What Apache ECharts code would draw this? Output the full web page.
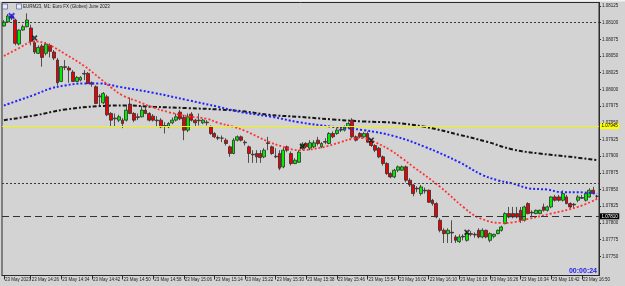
<!DOCTYPE html>
<html><head><meta charset="utf-8">
<script src="https://cdn.jsdelivr.net/npm/echarts@6/dist/echarts.min.js"></script>
<style>html,body{margin:0;padding:0;background:#d3d3d3;}#c{width:625px;height:286px;}</style>
</head><body><div id="c"></div>
<script>
// ---- data ----
const title = 'EURM23, M1: Euro FX (Globex) June 2023';
const timerText = '00:00:24';
const firstLabel = '23 May 2023';
const datePrefix = '23 May ';
const startMinute = 14 * 60 + 19; // first M1 bar 14:19
const barCount = 156;
const timeTicks = ['14:26','14:34','14:42','14:50','14:58','15:06','15:14','15:22','15:30','15:38','15:46','15:54','16:02','16:10','16:18','16:26','16:34','16:42','16:50'];
const priceTicks = [1.07750,1.07775,1.07800,1.07825,1.07850,1.07875,1.07900,1.07925,1.07950,1.07975,1.08000,1.08025,1.08050,1.08075,1.08100,1.08125];
const yMin = 1.077213, yMax = 1.081302;

const opens = [
1.08095,1.08101,1.08110,1.08104,1.08068,1.08089,1.08094,1.08092,1.08070,1.08054,
1.08065,1.08054,1.08066,1.08056,1.08044,1.08012,1.08034,1.08032,1.08026,1.08012,
1.08014,1.08024,1.08024,1.08010,1.08004,1.07989,1.07980,1.07989,1.07964,1.07957,
1.07954,1.07954,1.07954,1.07978,1.07964,1.07959,1.07959,1.07969,1.07964,1.07960,
1.07954,1.07954,1.07946,1.07944,1.07950,1.07954,1.07966,1.07958,1.07939,1.07963,
1.07954,1.07954,1.07950,1.07951,1.07944,1.07934,1.07928,1.07927,1.07924,1.07914,
1.07904,1.07924,1.07929,1.07921,1.07914,1.07903,1.07904,1.07904,1.07899,1.07920,
1.07914,1.07900,1.07904,1.07884,1.07914,1.07904,1.07889,1.07891,1.07912,1.07919,
1.07912,1.07914,1.07924,1.07914,1.07922,1.07919,1.07934,1.07934,1.07939,1.07939,
1.07944,1.07954,1.07929,1.07934,1.07929,1.07934,1.07922,1.07916,1.07912,1.07899,
1.07889,1.07874,1.07869,1.07879,1.07879,1.07884,1.07864,1.07857,1.07852,1.07844,
1.07849,1.07849,1.07834,1.07829,1.07804,1.07789,1.07784,1.07786,1.07779,1.07772,
1.07780,1.07774,1.07784,1.07783,1.07789,1.07779,1.07789,1.07774,1.07780,1.07784,
1.07789,1.07799,1.07814,1.07814,1.07814,1.07819,1.07804,1.07829,1.07816,1.07814,
1.07814,1.07824,1.07819,1.07824,1.07839,1.07839,1.07834,1.07839,1.07829,1.07828,
1.07834,1.07838,1.07834,1.07839,1.07849,1.07840];
const closes = [
1.08101,1.08110,1.08107,1.08069,1.08089,1.08094,1.08104,1.08072,1.08056,1.08063,
1.08048,1.08068,1.08057,1.08047,1.08010,1.08034,1.08033,1.08029,1.08012,1.08018,
1.08018,1.08023,1.08009,1.08008,1.07979,1.07990,1.07994,1.07962,1.07954,1.07956,
1.07959,1.07949,1.07969,1.07964,1.07954,1.07958,1.07969,1.07964,1.07954,1.07954,
1.07953,1.07944,1.07945,1.07949,1.07954,1.07959,1.07956,1.07939,1.07959,1.07954,
1.07950,1.07953,1.07954,1.07950,1.07934,1.07929,1.07927,1.07927,1.07919,1.07904,
1.07924,1.07929,1.07924,1.07920,1.07904,1.07902,1.07899,1.07898,1.07909,1.07919,
1.07904,1.07899,1.07882,1.07909,1.07909,1.07889,1.07894,1.07906,1.07918,1.07914,
1.07920,1.07920,1.07919,1.07919,1.07921,1.07934,1.07929,1.07939,1.07940,1.07944,
1.07949,1.07929,1.07924,1.07929,1.07934,1.07921,1.07916,1.07909,1.07899,1.07889,
1.07874,1.07869,1.07879,1.07884,1.07884,1.07864,1.07857,1.07844,1.07851,1.07854,
1.07848,1.07831,1.07829,1.07809,1.07789,1.07784,1.07789,1.07785,1.07774,1.07779,
1.07779,1.07784,1.07783,1.07782,1.07779,1.07789,1.07779,1.07784,1.07783,1.07789,
1.07794,1.07814,1.07809,1.07809,1.07809,1.07804,1.07824,1.07814,1.07815,1.07819,
1.07819,1.07819,1.07824,1.07839,1.07834,1.07834,1.07844,1.07829,1.07824,1.07827,
1.07839,1.07837,1.07844,1.07849,1.07844,1.07840];
const lows = [
1.08094,1.08100,1.08104,1.08066,1.08066,1.08088,1.08093,1.08066,1.08053,1.08053,
1.08034,1.08051,1.08048,1.08044,1.08006,1.08011,1.08029,1.08010,1.08011,1.08011,
1.08012,1.08014,1.08008,1.08004,1.07978,1.07976,1.07978,1.07960,1.07945,1.07945,
1.07951,1.07942,1.07952,1.07963,1.07951,1.07954,1.07958,1.07963,1.07952,1.07952,
1.07944,1.07942,1.07934,1.07942,1.07948,1.07952,1.07954,1.07924,1.07936,1.07952,
1.07944,1.07946,1.07948,1.07946,1.07932,1.07927,1.07924,1.07921,1.07916,1.07899,
1.07903,1.07922,1.07922,1.07916,1.07890,1.07890,1.07890,1.07890,1.07897,1.07909,
1.07902,1.07897,1.07879,1.07882,1.07906,1.07886,1.07888,1.07890,1.07909,1.07912,
1.07909,1.07912,1.07916,1.07912,1.07918,1.07918,1.07927,1.07932,1.07936,1.07937,
1.07942,1.07927,1.07922,1.07927,1.07927,1.07920,1.07914,1.07906,1.07897,1.07886,
1.07872,1.07867,1.07867,1.07876,1.07878,1.07861,1.07854,1.07840,1.07846,1.07841,
1.07844,1.07830,1.07826,1.07807,1.07786,1.07770,1.07770,1.07770,1.07770,1.07770,
1.07774,1.07772,1.07780,1.07778,1.07777,1.07777,1.07777,1.07771,1.07777,1.07783,
1.07787,1.07798,1.07807,1.07807,1.07807,1.07800,1.07802,1.07813,1.07810,1.07813,
1.07813,1.07817,1.07817,1.07822,1.07832,1.07832,1.07832,1.07828,1.07822,1.07822,
1.07831,1.07836,1.07832,1.07838,1.07843,1.07836];
const highs = [
1.08104,1.08113,1.08113,1.08106,1.08090,1.08097,1.08114,1.08097,1.08073,1.08066,
1.08068,1.08071,1.08069,1.08059,1.08047,1.08035,1.08044,1.08035,1.08029,1.08020,
1.08020,1.08029,1.08026,1.08012,1.08006,1.07993,1.07996,1.07992,1.07966,1.07964,
1.07962,1.07957,1.07975,1.07988,1.07966,1.07964,1.07975,1.07976,1.07966,1.07963,
1.07960,1.07957,1.07951,1.07951,1.07958,1.07964,1.07969,1.07962,1.07964,1.07966,
1.07956,1.07964,1.07956,1.07954,1.07946,1.07936,1.07931,1.07931,1.07927,1.07916,
1.07927,1.07931,1.07931,1.07924,1.07916,1.07909,1.07909,1.07909,1.07912,1.07929,
1.07916,1.07912,1.07909,1.07914,1.07916,1.07907,1.07897,1.07909,1.07921,1.07921,
1.07924,1.07924,1.07929,1.07921,1.07927,1.07936,1.07937,1.07942,1.07944,1.07946,
1.07951,1.07957,1.07931,1.07936,1.07936,1.07937,1.07925,1.07918,1.07914,1.07901,
1.07891,1.07876,1.07881,1.07886,1.07886,1.07886,1.07867,1.07858,1.07855,1.07857,
1.07853,1.07850,1.07836,1.07831,1.07807,1.07792,1.07792,1.07804,1.07782,1.07783,
1.07783,1.07788,1.07788,1.07786,1.07792,1.07792,1.07790,1.07786,1.07784,1.07790,
1.07796,1.07816,1.07824,1.07824,1.07824,1.07824,1.07826,1.07831,1.07819,1.07820,
1.07820,1.07829,1.07826,1.07840,1.07842,1.07842,1.07849,1.07842,1.07831,1.07830,
1.07842,1.07842,1.07846,1.07852,1.07854,1.07842];

// moving averages read at selected bars: [barIndex, price]
const maFast = [[0,1.08050],[4,1.08062],[8,1.08072],[12,1.08066],[16,1.08053],[21,1.08035],[25,1.08017],[28,1.08003],[31,1.07991],[35,1.07982],[39,1.07973],[43,1.07966],[48,1.07960],[53,1.07956],[56,1.07950],[60,1.07944],[63,1.07938],[69,1.07922],[73,1.07914],[77,1.07909],[83,1.07913],[88,1.07921],[91,1.07926],[94,1.07927],[97,1.07921],[101,1.07909],[104,1.07897],[107,1.07884],[114,1.07854],[120,1.07824],[124,1.07808],[130,1.07800],[133,1.07801],[137,1.07806],[143,1.07814],[150,1.07824],[155,1.07836]];
const maMid = [[0,1.07976],[4,1.07984],[8,1.07992],[12,1.08001],[16,1.08006],[21,1.08009],[25,1.08009],[30,1.08004],[39,1.07995],[48,1.07984],[56,1.07974],[62,1.07966],[70,1.07959],[77,1.07951],[86,1.07944],[94,1.07939],[102,1.07930],[110,1.07914],[119,1.07891],[125,1.07872],[129,1.07864],[133,1.07859],[137,1.07852],[142,1.07850],[146,1.07846],[150,1.07846],[155,1.07844]];
const maSlow = [[0,1.07954],[8,1.07961],[16,1.07970],[25,1.07975],[32,1.07976],[39,1.07974],[48,1.07972],[56,1.07970],[63,1.07967],[69,1.07962],[77,1.07959],[86,1.07955],[94,1.07952],[102,1.07950],[110,1.07944],[119,1.07932],[126,1.07922],[133,1.07910],[140,1.07904],[148,1.07899],[155,1.07894]];

// horizontal levels
const dottedLevels = [1.08100, 1.07860];
const yellowLevel = 1.07945;
const dashedLevel = 1.07810;

// trade markers: [barIndex, price]
const blueMarks = [[2,1.08110]];
const blackMarks = [[8,1.08077],[78,1.07915],[96,1.07924],[121,1.07786]];

// ---- build ----
const categories = [];
for (let i = 0; i < barCount; i++) {
  const m = startMinute + i;
  categories.push(Math.floor(m / 60) + ':' + String(m % 60).padStart(2, '0'));
}
const tickSet = new Set(timeTicks);
const isTick = (i, v) => i === 0 || tickSet.has(v);
const candleData = opens.map((o, i) => [o, closes[i], lows[i], highs[i]]);
const FONT = 'Liberation Sans';
const xPath = 'path://M0,2 L2,0 L5,3 L8,0 L10,2 L7,5 L10,8 L8,10 L5,7 L2,10 L0,8 L3,5 Z';

const levelLines = [
  ...dottedLevels.map(v => ({yAxis: v, lineStyle: {type: [2, 2], color: '#3a3a3a', width: 1}, label: {show: false}})),
  {yAxis: yellowLevel, lineStyle: {type: 'solid', color: '#f4f400', width: 1},
    label: {show: true, position: 'end', distance: 1, formatter: yellowLevel.toFixed(5), color: '#000', backgroundColor: '#ffff00', fontSize: 4.5, fontFamily: FONT, padding: [0.5, 1.5]}},
  {yAxis: dashedLevel, lineStyle: {type: [7, 4], color: '#333', width: 1},
    label: {show: true, position: 'end', distance: 1, formatter: dashedLevel.toFixed(5), color: '#fff', backgroundColor: '#000', fontSize: 4.5, fontFamily: FONT, padding: [0.5, 1.5]}}
];

const chart = echarts.init(document.getElementById('c'), null, {renderer: 'canvas'});
chart.setOption({
  animation: false,
  backgroundColor: '#d3d3d3',
  grid: {left: 2, right: 26, top: 2.5, bottom: 10.5, show: true, backgroundColor: '#d3d3d3', borderColor: '#2b2b2b', borderWidth: 1},
  xAxis: {
    type: 'category', data: categories, boundaryGap: true,
    axisLine: {show: true, lineStyle: {color: '#2b2b2b', width: 1}},
    axisTick: {show: true, alignWithLabel: true, interval: isTick, length: 4, lineStyle: {color: '#2b2b2b'}},
    axisLabel: {show: true, interval: isTick, formatter: (v, i) => i === 0 ? firstLabel : datePrefix + v,
      align: 'left', fontSize: 4.5, fontFamily: FONT, color: '#222', margin: 1.5, padding: [0, 0, 0, 1]},
    splitLine: {show: false}
  },
  yAxis: {
    type: 'value', position: 'right', min: yMin, max: yMax,
    axisLine: {show: true, lineStyle: {color: '#2b2b2b'}},
    axisTick: {show: true, customValues: priceTicks, length: 2, lineStyle: {color: '#2b2b2b'}},
    axisLabel: {show: true, customValues: priceTicks, formatter: v => v.toFixed(5), fontSize: 4.5, fontFamily: FONT, color: '#222', margin: 3},
    splitLine: {show: false}
  },
  series: [
    {
      type: 'line', data: maSlow, symbol: 'none', smooth: 0.4, z: 1,
      lineStyle: {color: '#151515', width: 2, type: [4, 2, 2, 2]},
      markLine: {silent: true, symbol: ['none', 'none'], animation: false, precision: 5, data: levelLines}
    },
    {
      type: 'candlestick', data: candleData, barWidth: 3.4, z: 2,
      itemStyle: {color: '#00ee00', color0: '#ee0000', borderColor: '#2e2e2e', borderColor0: '#2e2e2e', borderColorDoji: '#2e2e2e', borderWidth: 0.8}
    },
    {type: 'line', data: maMid, symbol: 'none', smooth: 0.4, lineStyle: {color: '#2222ff', width: 2, type: [2, 2]}, z: 3},
    {type: 'line', data: maFast, symbol: 'none', smooth: 0.4, lineStyle: {color: '#ff3333', width: 1.8, type: [2, 2]}, z: 3},
    {type: 'scatter', data: blueMarks, symbol: xPath, symbolSize: 7, itemStyle: {color: '#1a1aff'}, z: 4},
    {type: 'scatter', data: blackMarks, symbol: xPath, symbolSize: 6, itemStyle: {color: '#111'}, z: 4}
  ],
  graphic: [
    {type: 'rect', shape: {x: 0, y: 0, width: 625, height: 1.5}, style: {fill: '#f2f2f2'}, silent: true},
    {type: 'rect', shape: {x: 2.5, y: 4, width: 5, height: 5}, style: {fill: '#e8eaf4', stroke: '#5060a0', lineWidth: 0.7}, silent: true},
    {type: 'rect', shape: {x: 16.5, y: 4, width: 5, height: 5}, style: {fill: '#e8eaf4', stroke: '#5060a0', lineWidth: 0.7}, silent: true},
    {type: 'text', x: 23, y: 6.5, style: {text: title, fill: '#222', font: '4.5px "Liberation Sans"', verticalAlign: 'middle'}, silent: true},
    {type: 'text', x: 597, y: 271.5, style: {text: timerText, fill: '#2020ee', font: 'bold 7px "Liberation Sans"', align: 'right', verticalAlign: 'middle'}, silent: true}
  ]
});
</script></body></html>
